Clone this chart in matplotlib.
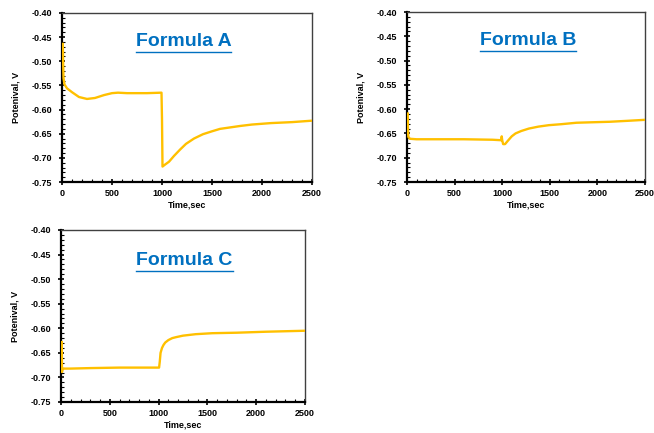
import numpy as np
import matplotlib
matplotlib.use('Agg')
from matplotlib import pyplot as plt
from matplotlib.lines import Line2D
from matplotlib.ticker import MultipleLocator, FormatStrFormatter

plt.rcParams['font.family'] = ['Liberation Sans', 'DejaVu Sans']

# Formula A
time_a = [8, 11, 15, 25, 50, 100, 170, 250, 330, 420, 500, 560, 650, 750, 850, 995,
          1000, 1005, 1030, 1070, 1120, 1180, 1240, 1320, 1410, 1500, 1580, 1680,
          1780, 1900, 2090, 2300, 2500]
pot_a = [-0.464, -0.50, -0.535, -0.548, -0.556, -0.564, -0.574, -0.578, -0.576,
         -0.570, -0.566, -0.565, -0.566, -0.566, -0.566, -0.565,
         -0.62, -0.718, -0.714, -0.708, -0.696, -0.683, -0.671, -0.660, -0.651,
         -0.645, -0.640, -0.637, -0.634, -0.631, -0.628, -0.626, -0.623]

# Formula B
time_b = [8, 10, 14, 30, 100, 300, 600, 900, 990, 995, 1000, 1010, 1030, 1060,
          1100, 1140, 1200, 1280, 1380, 1490, 1620, 1780, 1950, 2130, 2320, 2500]
pot_b = [-0.609, -0.640, -0.657, -0.661, -0.662, -0.662, -0.662, -0.663, -0.664,
         -0.656, -0.664, -0.672, -0.672, -0.665, -0.656, -0.650, -0.645, -0.640,
         -0.636, -0.633, -0.631, -0.628, -0.627, -0.626, -0.624, -0.622]

# Formula C
time_c = [8, 10, 16, 25, 100, 300, 600, 850, 1005, 1012, 1020, 1035, 1050, 1068,
          1100, 1140, 1180, 1250, 1380, 1550, 1800, 2100, 2300, 2500]
pot_c = [-0.628, -0.689, -0.683, -0.682, -0.682, -0.681, -0.680, -0.680, -0.680,
         -0.668, -0.650, -0.640, -0.634, -0.629, -0.624, -0.620, -0.618, -0.615,
         -0.612, -0.610, -0.609, -0.607, -0.606, -0.605]

y_ticks = np.arange(-0.75, -0.399, 0.05)
x_ticks = [0, 500, 1000, 1500, 2000, 2500]

line_color = '#FFC000'
title_color = '#0070C0'

fig = plt.figure(figsize=(6.54, 4.33), dpi=100)
W, H = 654.0, 433.0


def make_axes(left, top, right, bottom):
    return fig.add_axes([left / W, 1 - bottom / H, (right - left) / W, (bottom - top) / H])


def draw(ax, t, v, title, tx, ty):
    ax.plot(t, v, color=line_color, lw=1.7, zorder=3)
    ax.set_xlim(0, 2500)
    ax.set_ylim(-0.75, -0.40)
    ax.set_xticks(x_ticks)
    ax.set_yticks(y_ticks)
    ax.yaxis.set_major_formatter(FormatStrFormatter('%.2f'))
    ax.xaxis.set_minor_locator(MultipleLocator(100))
    ax.yaxis.set_minor_locator(MultipleLocator(0.01))
    ax.tick_params(which='major', direction='inout', length=4, width=1.2,
                   labelsize=6.5)
    ax.tick_params(axis='y', which='major', pad=5)
    ax.tick_params(axis='x', which='major', pad=3)
    ax.tick_params(which='minor', direction='in', length=2, width=0.8)
    for lab in ax.get_xticklabels() + ax.get_yticklabels():
        lab.set_fontweight('bold')
    for side in ['left', 'bottom']:
        ax.spines[side].set_linewidth(1.6)
        ax.spines[side].set_color('black')
    for side in ['top', 'right']:
        ax.spines[side].set_linewidth(1.0)
        ax.spines[side].set_color('#404040')
    ax.set_xlabel('Time,sec', fontsize=6.5, fontweight='bold', labelpad=2)
    ax.set_ylabel('Potenival, V', fontsize=6.5, fontweight='bold', labelpad=8)
    return ax.text(tx, ty, title, transform=ax.transAxes, ha='center', va='center',
                   fontsize=14, fontweight='bold', color=title_color)


ax_a = make_axes(62, 13, 312, 182)
ta = draw(ax_a, time_a, pot_a, 'Formula A', 0.486, 0.83)
ax_b = make_axes(407, 12, 645, 182)
tb = draw(ax_b, time_b, pot_b, 'Formula B', 0.508, 0.83)
ax_c = make_axes(61, 230, 305, 402)
tc = draw(ax_c, time_c, pot_c, 'Formula C', 0.506, 0.82)

# underline each title
fig.canvas.draw()
renderer = fig.canvas.get_renderer()
for txt in [ta, tb, tc]:
    bb = txt.get_window_extent(renderer).transformed(fig.transFigure.inverted())
    y = bb.y0 - 1.5 / H
    fig.add_artist(Line2D([bb.x0, bb.x1], [y, y], transform=fig.transFigure,
                          color=title_color, lw=1.0))

fig.savefig('out.png', dpi=100)
